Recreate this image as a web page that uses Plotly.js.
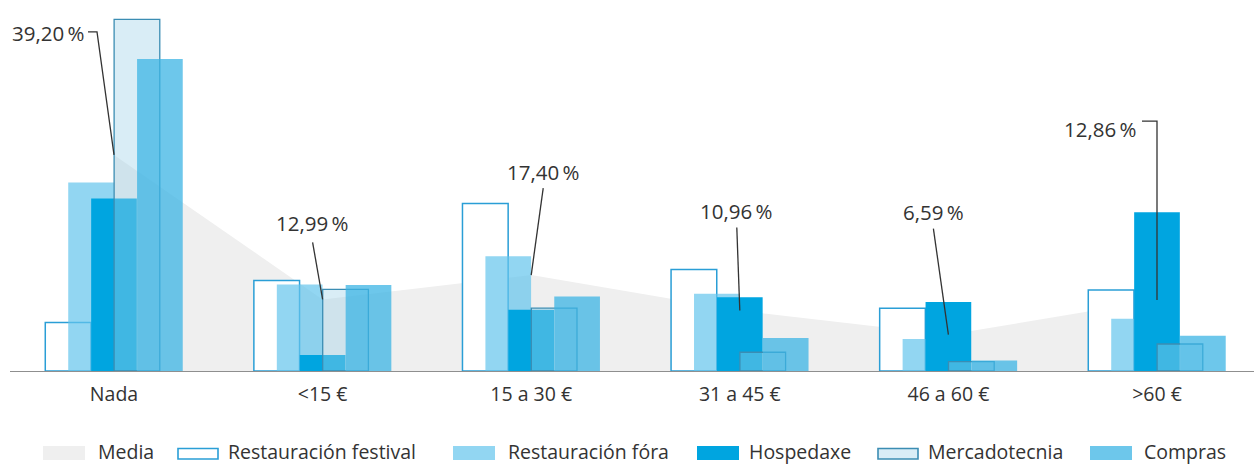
<!DOCTYPE html>
<html>
<head>
<meta charset="utf-8">
<script src="https://cdn.plot.ly/plotly-3.0.1.min.js"></script>
<style>html,body{margin:0;padding:0;background:#fff;}#chart{width:1254px;height:464px;}</style>
</head>
<body>
<div id="chart"></div>
<script>
// ---- data ----
const categories = ['Nada', '&lt;15 €', '15 a 30 €', '31 a 45 €', '46 a 60 €', '&gt;60 €'];
const media = [39.20, 12.99, 17.40, 10.96, 6.59, 12.86];
const mediaLabels = ['39,20\u2009%', '12,99\u2009%', '17,40\u2009%', '10,96\u2009%', '6,59\u2009%', '12,86\u2009%'];
const restauracionFestival = [8.8, 16.4, 30.4, 18.4, 11.4, 14.7];
const restauracionFora = [34.2, 15.7, 20.8, 14.0, 5.8, 9.5];
const hospedaxe = [31.3, 2.9, 11.1, 13.4, 12.5, 28.8];
const mercadotecnia = [63.8, 14.8, 11.4, 3.4, 1.7, 4.9];
const compras = [56.6, 15.6, 13.5, 6.0, 1.9, 6.4];
const seriesNames = ['Media', 'Restauración festival', 'Restauración fóra', 'Hospedaxe', 'Mercadotecnia', 'Compras'];

// ---- layout / style ----
const W = 1254, H = 464;
const M = {l: 10, r: 0, t: 0, b: 93};
const xs = categories.map((c, i) => i);
const X_RANGE = [-0.4986, 5.465];
const Y_RANGE = [0, 67.3];
const barW = 0.219;
const step = 0.11;
const font = 'Open Sans, Noto Sans, sans-serif';
const txt = '#333333';

const styles = [
  {fill: '#efefef', line: 'rgba(0,0,0,0)', lw: 0, outlined: false},
  {fill: '#ffffff', line: '#2a9ed6', lw: 1.5, outlined: true},
  {fill: 'rgba(100,196,236,0.7)', line: 'rgba(0,0,0,0)', lw: 0, outlined: false},
  {fill: '#00a5e0', line: 'rgba(0,0,0,0)', lw: 0, outlined: false},
  {fill: 'rgba(160,210,232,0.4)', line: '#3b8db3', lw: 1.3, outlined: true},
  {fill: 'rgba(60,180,228,0.75)', line: 'rgba(0,0,0,0)', lw: 0, outlined: false}
];
const barSeries = [restauracionFestival, restauracionFora, hospedaxe, mercadotecnia, compras];

const traces = [
  {type: 'scatter', mode: 'lines', name: seriesNames[0], x: xs, y: media,
   fill: 'tozeroy', fillcolor: styles[0].fill, line: {width: 0, color: styles[0].fill},
   xaxis: 'x', yaxis: 'y', hoverinfo: 'skip', showlegend: false}
];
barSeries.forEach((vals, j) => {
  const s = styles[j + 1];
  traces.push({
    type: 'bar', name: seriesNames[j + 1], x: xs, y: vals, xaxis: 'x2', yaxis: 'y2',
    width: barW, offset: (j - 2) * step - barW / 2,
    marker: {color: s.fill, line: {color: s.line, width: s.lw}},
    hoverinfo: 'skip', showlegend: false
  });
});

// leader lines for the Media labels (pixel offsets from each Media point)
const leaders = [
  {pts: [[0, 0], [-17, 123], [-26, 123]], tx: -27, ty: 122, anchor: 'right'},
  {pts: [[0, 0], [-10, 57]], tx: -10, ty: 76, anchor: 'center'},
  {pts: [[0, 0], [12, 87]], tx: 12, ty: 103, anchor: 'center'},
  {pts: [[0, 0], [-3, 83]], tx: -3, ty: 100, anchor: 'center'},
  {pts: [[0, 0], [-15, 106]], tx: -15, ty: 123, anchor: 'center'},
  {pts: [[0, 0], [0, 179], [-15, 179]], tx: -18, ty: 171, anchor: 'right'}
];

const shapes = leaders.map((L, i) => ({
  type: 'path', xref: 'x', yref: 'y', xsizemode: 'pixel', ysizemode: 'pixel',
  xanchor: xs[i], yanchor: media[i],
  path: 'M' + L.pts.map(p => p[0] + ',' + p[1]).join('L'),
  line: {color: '#333333', width: 1.3}, layer: 'above'
}));

const annotations = leaders.map((L, i) => ({
  x: xs[i], y: media[i], xref: 'x', yref: 'y', text: mediaLabels[i],
  showarrow: false, xshift: L.tx, yshift: L.ty, xanchor: L.anchor, yanchor: 'middle',
  font: {family: font, size: 20.5, color: txt}
}));

// custom legend (wide swatches like the original)
const pw = W - M.l - M.r, ph = H - M.t - M.b;
const px = v => (v - M.l) / pw;
const py = v => (H - M.b - v) / ph;
const legSwatchX = [43, 177, 453, 697, 877, 1090];
const legTextX = [97, 227, 507, 748, 927, 1143];
const swW = 42;
seriesNames.forEach((name, i) => {
  const s = styles[i];
  const inset = s.outlined ? 2.5 : 0;
  shapes.push({
    type: 'rect', xref: 'paper', yref: 'paper',
    x0: px(legSwatchX[i] + inset * 0.4), x1: px(legSwatchX[i] + swW - inset * 0.4),
    y0: py(460 - inset * 0.4), y1: py(446 + inset),
    fillcolor: s.fill, line: {color: s.outlined ? s.line : 'rgba(0,0,0,0)', width: s.outlined ? 1.6 : 0},
    layer: 'above'
  });
  annotations.push({
    xref: 'paper', yref: 'paper', x: px(legTextX[i]), y: py(451), text: name,
    showarrow: false, xanchor: 'left', yanchor: 'middle', borderpad: 0,
    font: {family: font, size: 19.5, color: txt}
  });
});

const layout = {
  width: W, height: H,
  margin: M,
  paper_bgcolor: '#ffffff', plot_bgcolor: '#ffffff',
  barmode: 'overlay',
  showlegend: false,
  xaxis: {range: X_RANGE, tickvals: xs, ticktext: categories, showgrid: false, zeroline: false,
          showline: false, ticks: '', ticklabelstandoff: 9,
          tickfont: {family: font, size: 19.5, color: txt}, fixedrange: true},
  yaxis: {range: Y_RANGE, visible: false, fixedrange: true},
  xaxis2: {range: X_RANGE, overlaying: 'x', showgrid: false, zeroline: false, showticklabels: false,
           ticks: '', showline: true, linecolor: '#8f8f8f', linewidth: 1.2, fixedrange: true},
  yaxis2: {range: Y_RANGE, overlaying: 'y', visible: false, fixedrange: true},
  shapes: shapes,
  annotations: annotations,
  font: {family: font, color: txt}
};

Plotly.newPlot('chart', traces, layout, {displayModeBar: false, staticPlot: true});
</script>
</body>
</html>
